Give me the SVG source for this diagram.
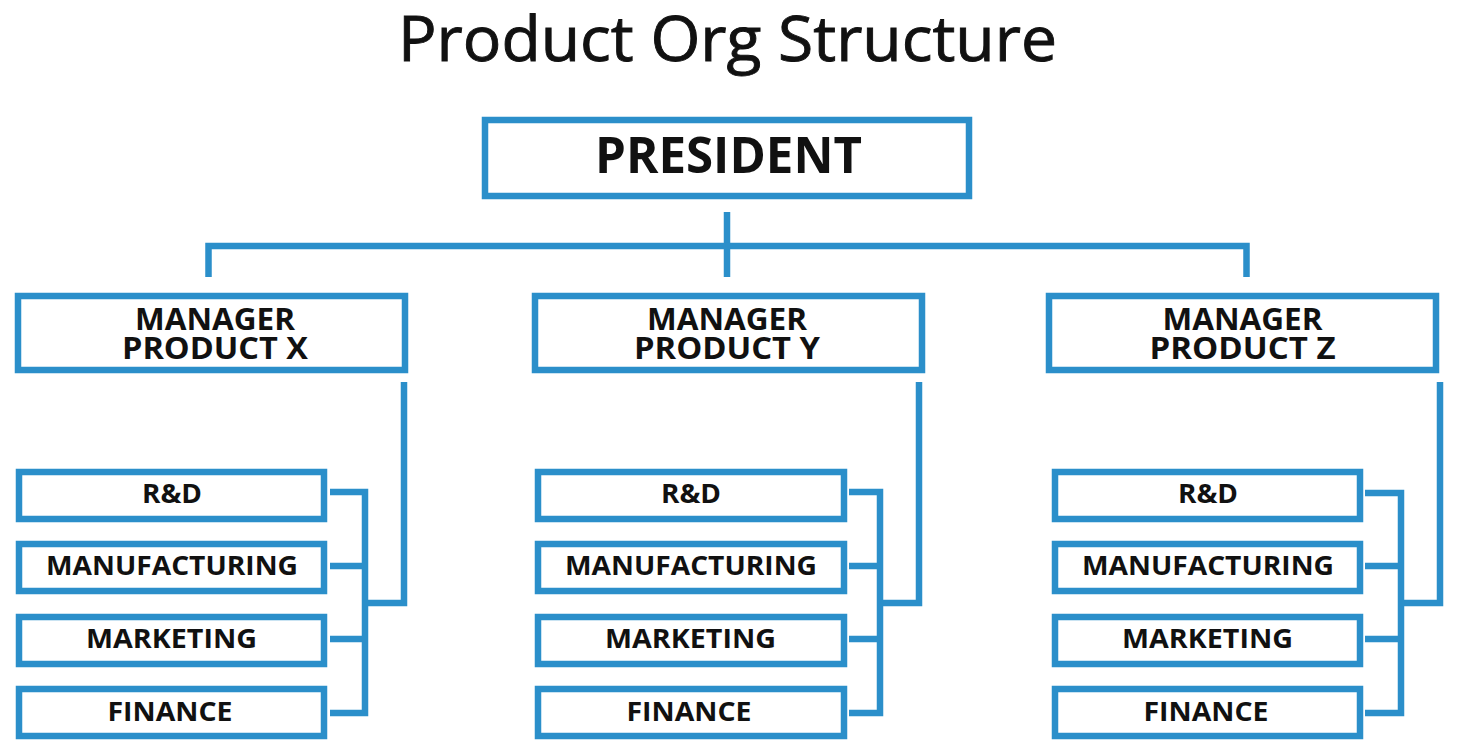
<svg xmlns="http://www.w3.org/2000/svg" width="1462" height="748" viewBox="0 0 1462 748">
<style>
.box{fill:#ffffff;stroke:#2b8fca;stroke-width:6.5}
.ln{fill:none;stroke:#2b8fca;stroke-width:6.5;stroke-linejoin:miter;stroke-linecap:butt}
.t{font-family:"Open Sans","Noto Sans","Liberation Sans",sans-serif;font-weight:bold;fill:#111111;text-anchor:middle}
.title{font-family:"Open Sans","Noto Sans","Liberation Sans",sans-serif;font-size:62px;fill:#111111;stroke:#111111;stroke-width:0.9;text-anchor:middle}
.pres{font-size:50px}
.mgr{font-size:30px}
.sub{font-size:27px}
</style>
<rect width="1462" height="748" fill="#ffffff"/>
<text class="title" x="727.5" y="61" textLength="659" lengthAdjust="spacingAndGlyphs">Product Org Structure</text>

<g id="connectors">
  <path class="ln" d="M727 212 V277"/>
  <path class="ln" d="M208.5 277 V246 H1246.5 V277"/>
  <path class="ln" d="M404 382 V603 H365"/>
  <path class="ln" d="M330 492 H365 V713 H330"/>
  <path class="ln" d="M330 566 H365 M330 639 H365"/>
  <path class="ln" d="M919 382 V603 H880"/>
  <path class="ln" d="M849 492 H880 V713 H849"/>
  <path class="ln" d="M849 566 H880 M849 639 H880"/>
  <path class="ln" d="M1440 382 V603 H1401"/>
  <path class="ln" d="M1365 493 H1401 V713 H1365"/>
  <path class="ln" d="M1365 566 H1401 M1365 639 H1401"/>
</g>

<g id="president">
  <rect class="box" x="485" y="120" width="484" height="76"/>
  <text class="t pres" x="728.5" y="173" textLength="267" lengthAdjust="spacingAndGlyphs">PRESIDENT</text>
</g>

<g id="manager-x">
  <rect class="box" x="18" y="296" width="387" height="74"/>
  <text class="t mgr" x="215" y="330" textLength="160" lengthAdjust="spacingAndGlyphs">MANAGER</text>
  <text class="t mgr" x="215" y="359" textLength="186" lengthAdjust="spacingAndGlyphs">PRODUCT X</text>
</g>
<g id="manager-y">
  <rect class="box" x="535" y="296" width="387" height="74"/>
  <text class="t mgr" x="727" y="330" textLength="160" lengthAdjust="spacingAndGlyphs">MANAGER</text>
  <text class="t mgr" x="727" y="359" textLength="186" lengthAdjust="spacingAndGlyphs">PRODUCT Y</text>
</g>
<g id="manager-z">
  <rect class="box" x="1049" y="296" width="387" height="74"/>
  <text class="t mgr" x="1242.5" y="330" textLength="160" lengthAdjust="spacingAndGlyphs">MANAGER</text>
  <text class="t mgr" x="1242.5" y="359" textLength="186" lengthAdjust="spacingAndGlyphs">PRODUCT Z</text>
</g>

<g id="x-rd"><rect class="box" x="19" y="472" width="305" height="47"/><text class="t sub" x="172" y="503" textLength="60" lengthAdjust="spacingAndGlyphs">R&amp;D</text></g>
<g id="x-mfg"><rect class="box" x="19" y="544" width="305" height="47"/><text class="t sub" x="172" y="575" textLength="252" lengthAdjust="spacingAndGlyphs">MANUFACTURING</text></g>
<g id="x-mkt"><rect class="box" x="19" y="617" width="305" height="47"/><text class="t sub" x="171.5" y="648" textLength="171" lengthAdjust="spacingAndGlyphs">MARKETING</text></g>
<g id="x-fin"><rect class="box" x="19" y="689" width="305" height="47"/><text class="t sub" x="170" y="721" textLength="125" lengthAdjust="spacingAndGlyphs">FINANCE</text></g>

<g id="y-rd"><rect class="box" x="538" y="472" width="306" height="47"/><text class="t sub" x="691" y="503" textLength="60" lengthAdjust="spacingAndGlyphs">R&amp;D</text></g>
<g id="y-mfg"><rect class="box" x="538" y="544" width="306" height="47"/><text class="t sub" x="691" y="575" textLength="252" lengthAdjust="spacingAndGlyphs">MANUFACTURING</text></g>
<g id="y-mkt"><rect class="box" x="538" y="617" width="306" height="47"/><text class="t sub" x="690.5" y="648" textLength="171" lengthAdjust="spacingAndGlyphs">MARKETING</text></g>
<g id="y-fin"><rect class="box" x="538" y="689" width="306" height="47"/><text class="t sub" x="689" y="721" textLength="125" lengthAdjust="spacingAndGlyphs">FINANCE</text></g>

<g id="z-rd"><rect class="box" x="1055" y="472" width="305" height="47"/><text class="t sub" x="1208" y="503" textLength="60" lengthAdjust="spacingAndGlyphs">R&amp;D</text></g>
<g id="z-mfg"><rect class="box" x="1055" y="544" width="305" height="47"/><text class="t sub" x="1208" y="575" textLength="252" lengthAdjust="spacingAndGlyphs">MANUFACTURING</text></g>
<g id="z-mkt"><rect class="box" x="1055" y="617" width="305" height="47"/><text class="t sub" x="1207.5" y="648" textLength="171" lengthAdjust="spacingAndGlyphs">MARKETING</text></g>
<g id="z-fin"><rect class="box" x="1055" y="689" width="305" height="47"/><text class="t sub" x="1206" y="721" textLength="125" lengthAdjust="spacingAndGlyphs">FINANCE</text></g>
</svg>
